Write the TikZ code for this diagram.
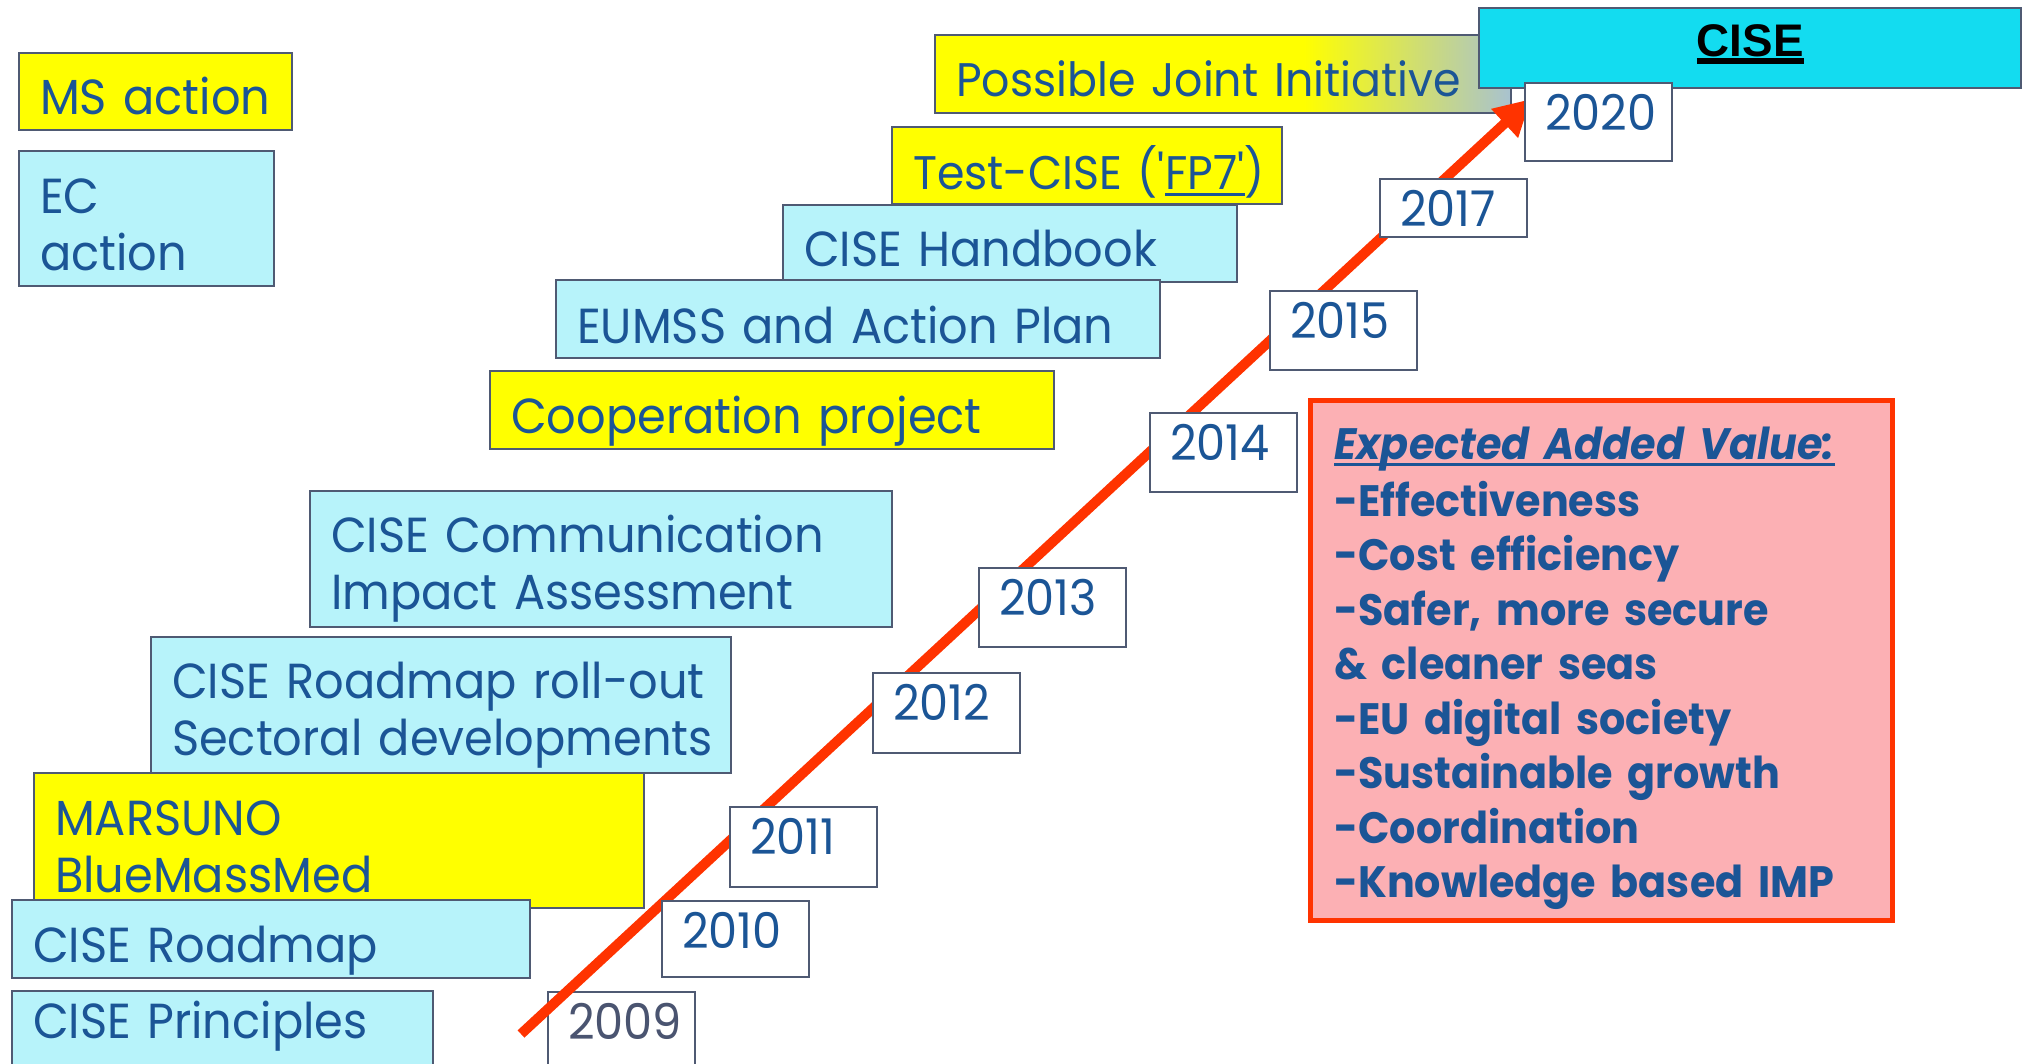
\documentclass[tikz,border=0pt]{standalone}
\usepackage{fontspec}
\setmainfont{Poppins}[FakeStretch=0.94]
\newfontfamily\cisefont{Liberation Sans}
\usepackage{tikz}
\usetikzlibrary{arrows.meta}

\definecolor{ink}{RGB}{27,85,150}
\definecolor{edge}{RGB}{79,90,115}
\definecolor{msyellow}{RGB}{255,255,0}
\definecolor{eccyan}{RGB}{183,243,250}
\definecolor{cisecyan}{RGB}{19,220,240}
\definecolor{fadegray}{RGB}{168,194,208}
\definecolor{valuepink}{RGB}{252,176,180}
\definecolor{timered}{RGB}{255,51,0}
\definecolor{oldgray}{RGB}{74,84,112}

\pgfdeclarehorizontalshading{pjifade}{100bp}{color(0bp)=(msyellow); color(57bp)=(msyellow); color(75bp)=(fadegray); color(100bp)=(fadegray)}

\newsavebox\ulsave
\newcommand{\ulbar}[3]{\sbox\ulsave{#3}\rlap{\rule[-#1]{\wd\ulsave}{#2}}\usebox\ulsave}

\tikzset{
	plan/.style={draw=edge, line width=0.6pt, anchor=north west, inner sep=0pt, align=left, text=ink,
		font=\fontsize{14pt}{16.2pt}\selectfont,
		execute at begin node={\leftskip=0.21cm\hyphenpenalty=10000\exhyphenpenalty=10000}},
	msbox/.style={plan, fill=msyellow},
	ecbox/.style={plan, fill=eccyan},
	hb/.style 2 args={text height=#1, text depth=#2},
	yearbox/.style={plan, fill=white, text width=1.47cm, text height=0.47cm, execute at begin node={\leftskip=0.2cm}},
	cisebox/.style={draw=edge, line width=0.6pt, fill=cisecyan, anchor=north west, inner sep=0pt, align=center,
		font=\cisefont\fontsize{13pt}{15pt}\selectfont\bfseries},
	valuebox/.style={draw=timered, line width=1.3pt, fill=valuepink, anchor=north west, inner sep=0pt, align=left, text=ink,
		font=\fontsize{12.5pt}{15.5pt}\selectfont\bfseries, execute at begin node={\leftskip=0.24cm}},
	timeline/.style={draw=timered, line width=0.1cm, -{Triangle[length=0.36cm, width=0.37cm]}}
}

\begin{document}
\begin{tikzpicture}[x=0.01cm, y=-0.01cm]
			\useasboundingbox (0,0) rectangle (2024,1064);
			\node[msbox, text width=2.73cm, hb={0.61cm}{0.16cm}] (ms) at (18,52) {MS action};
			\node[ecbox, text width=2.55cm, hb={0.62cm}{0.73cm}] (ec) at (18,150) {EC\\action};
			\node[plan, shading=pjifade, font=\fontsize{13.4pt}{16pt}\selectfont, text width=5.76cm, hb={0.61cm}{0.17cm}] (joint) at (934,34) {Possible Joint Initiative};
			\node[cisebox, text width=5.42cm, hb={0.48cm}{0.32cm}] (cise) at (1478,7) {\ulbar{0.08cm}{0.06cm}{CISE}};
			\node[msbox, font=\fontsize{13.4pt}{16pt}\selectfont, text width=3.90cm, hb={0.62cm}{0.15cm}] (test) at (891,126) {Test-CISE~(\textquotesingle\ulbar{0.073cm}{0.033cm}{FP7\textquotesingle})};
			\node[ecbox, text width=4.54cm, hb={0.61cm}{0.16cm}] (handbook) at (782,204) {CISE Handbook};
			\node[ecbox, text width=6.04cm, hb={0.63cm}{0.15cm}] (eumss) at (555,279) {EUMSS and Action Plan};
			\node[msbox, text width=5.64cm, hb={0.62cm}{0.16cm}] (coop) at (489,370) {Cooperation project};
			\node[ecbox, text width=5.82cm, hb={0.61cm}{0.75cm}] (comm) at (309,490) {CISE Communication\\Impact Assessment};
			\node[ecbox, text width=5.80cm, hb={0.61cm}{0.75cm}] (rollout) at (150,636) {CISE Roadmap roll-out\\Sectoral developments};
			\node[msbox, text width=6.10cm, hb={0.62cm}{0.73cm}] (marsuno) at (33,772) {MARSUNO\\BlueMassMed};
			\node[ecbox, text width=5.18cm, hb={0.62cm}{0.16cm}] (roadmap) at (11,899) {CISE Roadmap};
			\node[ecbox, text width=4.21cm, hb={0.47cm}{0.31cm}] (principles) at (11,990) {CISE Principles};
			\node[valuebox, text width=5.82cm, hb={0.59cm}{4.61cm}] (value) at (1308,398) {\textit{\ulbar{0.065cm}{0.025cm}{Expected Added Value:}}\\[0.65pt]
				-Effectiveness\\
				-Cost efficiency\\
				-Safer, more secure\\
				\& cleaner seas\\
				-EU digital society\\
				-Sustainable growth\\
				-Coordination\\
				-Knowledge based IMP};
			\node[yearbox, text=oldgray, text depth=0.31cm] (y2009) at (547,991) {2009};
			\coordinate (tail) at (521,1034);
			\coordinate (tip) at (1531,99);
			\draw[timeline] (tail) -- (tip);
			\foreach \yr/\xx/\yy/\dd in {2010/661/900/0.29cm, 2011/729/806/0.33cm, 2012/872/672/0.33cm, 2013/978/567/0.32cm,
				2014/1149/412/0.32cm, 2015/1269/290/0.32cm, 2017/1379/178/0.11cm, 2020/1524/82/0.31cm}
			\node[yearbox, text depth=\dd] (y\yr) at (\xx,\yy) {\yr};
\end{tikzpicture}
\end{document}
